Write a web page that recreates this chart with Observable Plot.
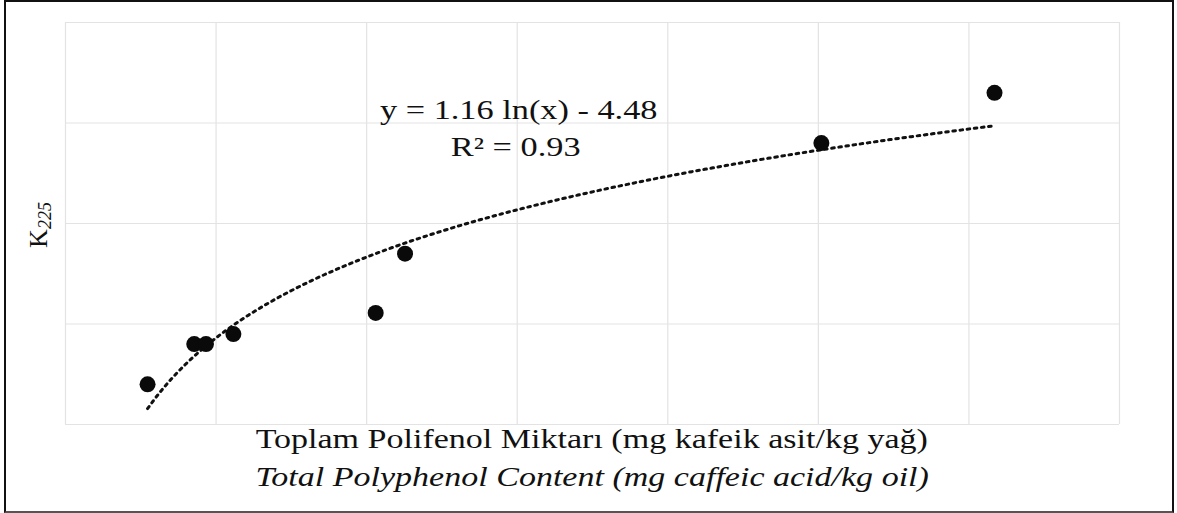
<!DOCTYPE html>
<html><head><meta charset="utf-8">
<script src="https://cdn.jsdelivr.net/npm/d3@7"></script>
<script src="https://cdn.jsdelivr.net/npm/@observablehq/plot@0.6"></script>
<style>
body{margin:0;background:#fff;}
#frame{position:absolute;left:4px;top:0;width:1170px;height:513px;border:2px solid #111;border-bottom-color:#555;box-sizing:border-box;font-family:"Liberation Serif","Times New Roman",serif;color:#111;overflow:hidden;}
#chart{position:absolute;left:0;top:0;}
#ylab{position:absolute;left:34px;top:223px;font-size:26px;transform:translate(-50%,-50%) rotate(-90deg);white-space:nowrap;line-height:1;color:#111;}
#ylab sub{font-size:18px;font-style:italic;vertical-align:-4px;}
.xl{position:absolute;left:59px;width:1054px;text-align:center;white-space:nowrap;font-size:27px;line-height:1;}
.xl span{display:inline-block;transform:scaleX(1.26);transform-origin:center;}
#xlab1{top:424px;}
#xlab2{top:462px;font-style:italic;}
</style></head><body>
<div id="frame"><div id="chart"></div>
<div id="ylab">K<sub>225</sub></div>
<div class="xl" id="xlab1"><span>Toplam Polifenol Miktarı (mg kafeik asit/kg yağ)</span></div>
<div class="xl" id="xlab2"><span>Total Polyphenol Content (mg caffeic acid/kg oil)</span></div>
</div>
<script>
// Data (x: mg caffeic acid/kg oil, y: K225)
const polyphenol = [54.5, 85.5, 93.3, 111.5, 206, 225.5, 502, 617];
const k225 = [0.40, 0.80, 0.80, 0.90, 1.11, 1.70, 2.80, 3.30];
const xTicks = [0, 100, 200, 300, 400, 500, 600, 700];
const yTicks = [0, 1, 2, 3, 4];
// Logarithmic trend line given on the chart: y = a ln(x) + b
const fitA = 1.16, fitB = -4.48;
const equationLabel = "y = 1.16 ln(x) - 4.48";
const r2Label = "R² = 0.93";

const points = polyphenol.map((x, i) => ({x, y: k225[i]}));
const [xmin, xmax] = d3.extent(polyphenol);
const fitXs = d3.range(0, 201).map(i => xmin + (xmax - 2 - xmin) * i / 200);
const fit = fitXs.map(x => ({x, y: fitA * Math.log(x) + fitB}));

const chart = Plot.plot({
  width: 1166,
  height: 430,
  marginLeft: 59,
  marginRight: 53,
  marginTop: 20,
  marginBottom: 8,
  x: {domain: [0, 700], axis: null},
  y: {domain: [0, 4], axis: null},
  style: {background: "transparent", fontFamily: "'Liberation Serif', serif"},
  marks: [
    Plot.ruleX(xTicks, {stroke: "#e3e3e3", strokeWidth: 1.2}),
    Plot.ruleY(yTicks, {stroke: "#e3e3e3", strokeWidth: 1.2}),
    Plot.line(fit, {x: "x", y: "y", stroke: "#111", strokeWidth: 3, strokeDasharray: "2.6,4.6"}),
    Plot.dot(points, {x: "x", y: "y", r: 8, fill: "#0a0a0a", stroke: "none"}),
    Plot.text([equationLabel], {x: 301, y: 3.13, text: d => d, fontSize: 27, fill: "#111", className: "eqlabel"}),
    Plot.text([r2Label], {x: 299, y: 2.76, text: d => d, fontSize: 27, fill: "#111", className: "eqlabel"})
  ]
});
document.getElementById("chart").appendChild(chart);
// stretch equation text horizontally like the reference
d3.select(chart).selectAll(".eqlabel text").each(function() {
  const w = this.getComputedTextLength();
  this.setAttribute("textLength", (w * 1.27).toFixed(1));
  this.setAttribute("lengthAdjust", "spacingAndGlyphs");
});
</script>
</body></html>
